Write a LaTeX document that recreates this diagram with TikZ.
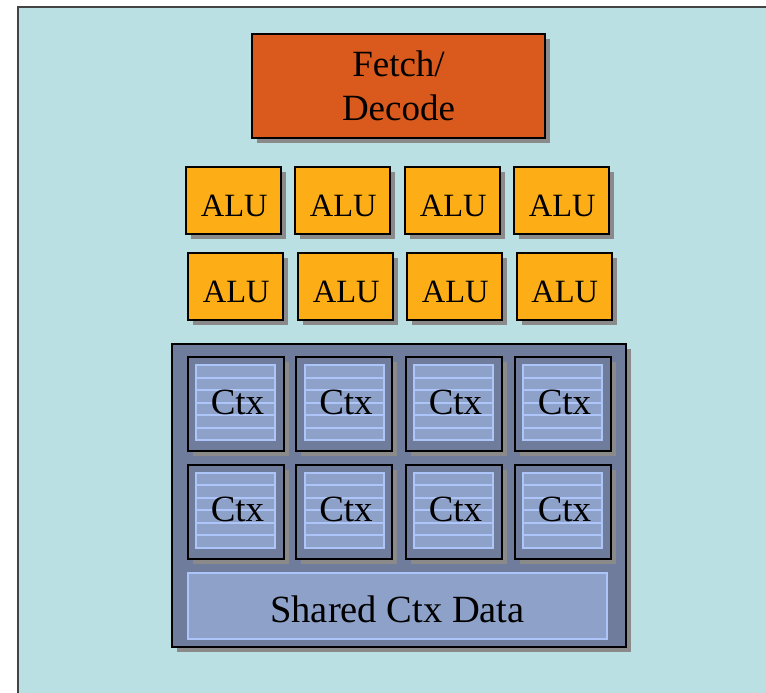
\documentclass[tikz,border=0pt]{standalone}
\usepackage{fontspec}
\setmainfont{Liberation Serif}
\usetikzlibrary{shadows,calc}

\definecolor{panelbg}{HTML}{BBE0E3}
\definecolor{panelrule}{HTML}{444444}
\definecolor{fetchfill}{HTML}{DA591C}
\definecolor{alufill}{HTML}{FDAE17}
\definecolor{ctxframe}{HTML}{6F7C9C}
\definecolor{ctxreg}{HTML}{8EA2C9}
\definecolor{ctxline}{HTML}{ADC5F8}
\definecolor{shadowgray}{HTML}{8A8A8A}

% place a text with its baseline a given distance below the node centre
\newcommand{\dropto}[2]{\raisebox{-#1}[0pt][0pt]{#2}}

\tikzset{
  unitbox/.style={draw=black, line width=2pt, inner sep=0pt, outer sep=0pt,
    drop shadow={shadow xshift=5pt, shadow yshift=-5pt, fill=shadowgray, opacity=1}},
  fetchbox/.style={unitbox, fill=fetchfill, minimum width=293pt, minimum height=104pt,
    align=center, font=\fontsize{37}{44}\selectfont},
  alubox/.style={unitbox, fill=alufill, minimum width=95pt, minimum height=67pt,
    font=\fontsize{32.5}{36}\selectfont},
  ctxbox/.style={unitbox, fill=ctxframe, minimum width=96pt, minimum height=94pt},
  ctxregs/.style={draw=ctxline, line width=2pt, fill=ctxreg, inner sep=0pt,
    minimum width=79pt, minimum height=75pt, font=\fontsize{37}{40}\selectfont,
    path picture={
      \foreach \k in {1,...,5}
        \draw[ctxline, line width=2pt]
          ($(path picture bounding box.north west)!\k/6!(path picture bounding box.south west)$) --
          ($(path picture bounding box.north east)!\k/6!(path picture bounding box.south east)$);
    }},
  sharedbox/.style={draw=ctxline, line width=2pt, fill=ctxreg, inner sep=0pt,
    minimum width=419pt, minimum height=66pt, font=\fontsize{38.5}{42}\selectfont},
}

\begin{document}
\begin{tikzpicture}[x=1pt, y=-1pt]
  \useasboundingbox (0,0) rectangle (766,693);
  \fill[white] (0,0) rectangle (766,693);

  % background panel, open to the right and bottom
  \fill[panelbg] (18,7) rectangle (766,693);
  \draw[panelrule, line width=2pt] (18,693) -- (18,7) -- (766,7);

  % instruction fetch / decode unit
  \node[fetchbox] (fetch) at (398.5,86) {Fetch/\\Decode};

  % two rows of four ALUs
  \foreach \i/\x in {1/233.5, 2/342.5, 3/452.5, 4/561.5}
    \node[alubox] (aluA\i) at (\x,200.5) {\dropto{15.5pt}{\kern1.5pt ALU}};
  \foreach \i/\x in {1/235.5, 2/345.5, 3/454.5, 4/564}
    \node[alubox] (aluB\i) at (\x,286.5) {\dropto{15.5pt}{\kern1.5pt ALU}};

  % execution context storage
  \node[unitbox, fill=ctxframe, minimum width=454pt, minimum height=303pt] (ctxstore) at (399,495.5) {};

  \foreach \i/\x in {1/235.5, 2/344, 3/453.5, 4/562.5} {
    \node[ctxbox] (ctxA\i) at (\x,404) {};
    \node[ctxregs] (regA\i) at ($(ctxA\i.center)+(0,-1.5)$) {\dropto{11.5pt}{\kern4pt Ctx}};
    \node[ctxbox] (ctxB\i) at (\x,511.5) {};
    \node[ctxregs] (regB\i) at ($(ctxB\i.center)+(0,-1.5)$) {\dropto{11.5pt}{\kern4pt Ctx}};
  }

  \node[sharedbox] (shared) at (397.5,606) {\dropto{16pt}{Shared Ctx Data}};
\end{tikzpicture}
\end{document}
